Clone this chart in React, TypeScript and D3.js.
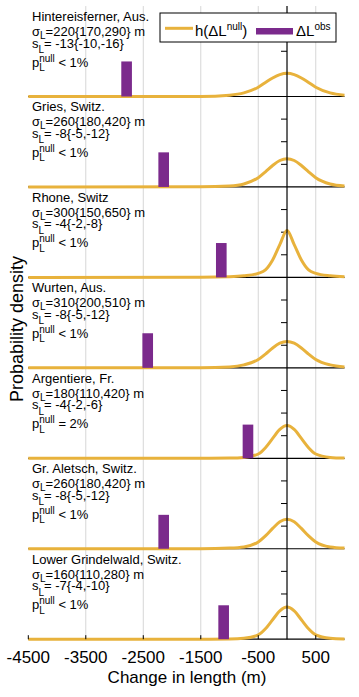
import React from 'react';
import * as d3 from 'd3';

const glaciers = ['Hintereisferner, Aus.', 'Gries, Switz.', 'Rhone, Switz', 'Wurten, Aus.', 'Argentiere, Fr.', 'Gr. Aletsch, Switz.', 'Lower Grindelwald, Switz.'];
const sigmaLabels = ['=220{170,290} m', '=260{180,420} m', '=300{150,650} m', '=310{200,510} m', '=180{110,420} m', '=260{180,420} m', '=160{110,280} m'];
const slopeLabels = ['= -13{-10,-16}', '= -8{-5,-12}', '= -4{-2,-8}', '= -8{-5,-12}', '= -4{-2,-6}', '= -8{-5,-12}', '= -7{-4,-10}'];
const pLabels = ['< 1%', '< 1%', '< 1%', '< 1%', '= 2%', '< 1%', '< 1%'];
const obsChange = [-2790, -2145, -1143, -2423, -679, -2145, -1102];
const obsHeight = [1.55, 1.53, 1.52, 1.53, 1.49, 1.5, 1.5];
const densityX = [-4500, -1500, -1000, -750, -500, -375, -250, -125, 0, 125, 250, 375, 500, 750, 1000];
const densityHintereis = [0, 0.005, 0.06, 0.16, 0.41, 0.62, 0.82, 0.97, 1.03, 0.97, 0.82, 0.62, 0.41, 0.16, 0.06];
const densityGries = [0, 0.005, 0.04, 0.13, 0.41, 0.67, 0.95, 1.17, 1.25, 1.17, 0.95, 0.67, 0.41, 0.13, 0.04];
const densityRhone = [0, 0.01, 0.03, 0.07, 0.18, 0.33, 0.77, 1.45, 2.07, 1.45, 0.77, 0.33, 0.18, 0.07, 0.03];
const densityWurten = [0, 0.005, 0.04, 0.13, 0.37, 0.61, 0.88, 1.09, 1.17, 1.09, 0.88, 0.61, 0.37, 0.13, 0.04];
const densityArgentiere = [0, 0, 0.01, 0.04, 0.19, 0.47, 0.88, 1.28, 1.45, 1.28, 0.88, 0.47, 0.19, 0.04, 0.01];
const densityAletsch = [0, 0.005, 0.03, 0.08, 0.3, 0.57, 0.9, 1.19, 1.3, 1.19, 0.9, 0.57, 0.3, 0.08, 0.03];
const densityGrindelwald = [0, 0, 0.01, 0.04, 0.19, 0.46, 0.86, 1.25, 1.42, 1.25, 0.86, 0.46, 0.19, 0.04, 0.01];
const densities = [densityHintereis, densityGries, densityRhone, densityWurten, densityArgentiere, densityAletsch, densityGrindelwald];
const xTicks = [-4500, -3500, -2500, -1500, -500, 500];
const yTicks = [1, 2, 3];

const W = 359;
const H = 697;
const GOLD = '#E8B23C';
const PURPLE = '#7B2A8C';
const FONT = '"Liberation Sans", Arial, Helvetica, sans-serif';

export default function App() {
  const x = d3.scaleLinear().domain([-4500, 1000]).range([28.3, 344.5]);
  const panelH = 90.45;
  const firstBase = 96.5;
  const bases = glaciers.map((_, i) => firstBase + panelH * i);
  const top = firstBase - panelH;
  const bottom = bases[bases.length - 1];
  const barW = 185;

  return (
    <svg width={W} height={H} style={{ position: 'absolute', left: 0, top: 0, background: '#fff' }} fontFamily={FONT}>
      {xTicks.filter((t) => t !== -4500).map((t) => (
        <line key={'g' + t} x1={x(t)} x2={x(t)} y1={top} y2={bottom} stroke="#d6d6d6" strokeWidth={1} />
      ))}
      {glaciers.map((name, i) => {
        const B = bases[i];
        const y = d3.scaleLinear().domain([0, 4]).range([B, B - panelH]);
        const pts = densityX.map((dx, k) => [dx, densities[i][k]] as [number, number]);
        const line = d3.line<[number, number]>().x((d) => x(d[0])).y((d) => y(d[1])).curve(d3.curveMonotoneX);
        const c = obsChange[i];
        return (
          <g key={name}>
            <line x1={x(-4500)} x2={x(1000)} y1={B} y2={B} stroke="#000" strokeWidth={1.2} />
            {yTicks.map((t) => (
              <line key={t} x1={x(0) - 6} x2={x(0)} y1={y(t)} y2={y(t)} stroke="#000" strokeWidth={1} />
            ))}
            <path d={line(pts) || ''} fill="none" stroke={GOLD} strokeWidth={3} />
            <rect x={x(c - barW / 2)} y={y(obsHeight[i])} width={x(c + barW / 2) - x(c - barW / 2)} height={B - y(obsHeight[i])} fill={PURPLE} />
            <text x={32} y={B - 75.5} fontSize={13} fill="#000">{name}</text>
            <text x={32} y={B - 60.5} fontSize={13} fill="#000">
              σ<tspan fontSize={10} dy={3}>L</tspan><tspan dy={-3}>{sigmaLabels[i]}</tspan>
            </text>
            <text x={32} y={B - 49} fontSize={13} fill="#000">
              s<tspan fontSize={10} dy={5.5}>L</tspan><tspan dy={-5.5}>{slopeLabels[i]}</tspan>
            </text>
            <text x={32} y={B - 30} fontSize={13} fill="#000">
              p<tspan fontSize={10} dy={-5}>null</tspan>
              <tspan fontSize={10} dx={-15.6} dy={9.5}>L</tspan>
              <tspan dx={10} dy={-4.5}> {pLabels[i]}</tspan>
            </text>
          </g>
        );
      })}
      <line x1={x(0)} x2={x(0)} y1={top} y2={bottom} stroke="#000" strokeWidth={1.2} />
      {xTicks.map((t) => (
        <g key={'t' + t}>
          <line x1={x(t)} x2={x(t)} y1={bottom} y2={bottom - 4} stroke="#000" strokeWidth={1} />
          <text x={x(t)} y={663} fontSize={17} textAnchor="middle" fill="#000">{t}</text>
        </g>
      ))}
      <text x={187} y={683} fontSize={17} textAnchor="middle" fill="#000">Change in length (m)</text>
      <text transform={`translate(23,329) rotate(-90)`} fontSize={18} textAnchor="middle" fill="#000">Probability density</text>
      <rect x={160} y={13} width={176} height={29} fill="#fff" stroke="#000" strokeWidth={1} />
      <line x1={165} x2={193} y1={28.3} y2={28.3} stroke={GOLD} strokeWidth={3} />
      <text x={195} y={36} fontSize={15} fill="#000">
        h(ΔL<tspan fontSize={10} dy={-6}>null</tspan><tspan dy={6}>)</tspan>
      </text>
      <rect x={256} y={28} width={37} height={6.5} fill={PURPLE} />
      <text x={296} y={36} fontSize={15} fill="#000">
        ΔL<tspan fontSize={10} dy={-6}>obs</tspan>
      </text>
    </svg>
  );
}
